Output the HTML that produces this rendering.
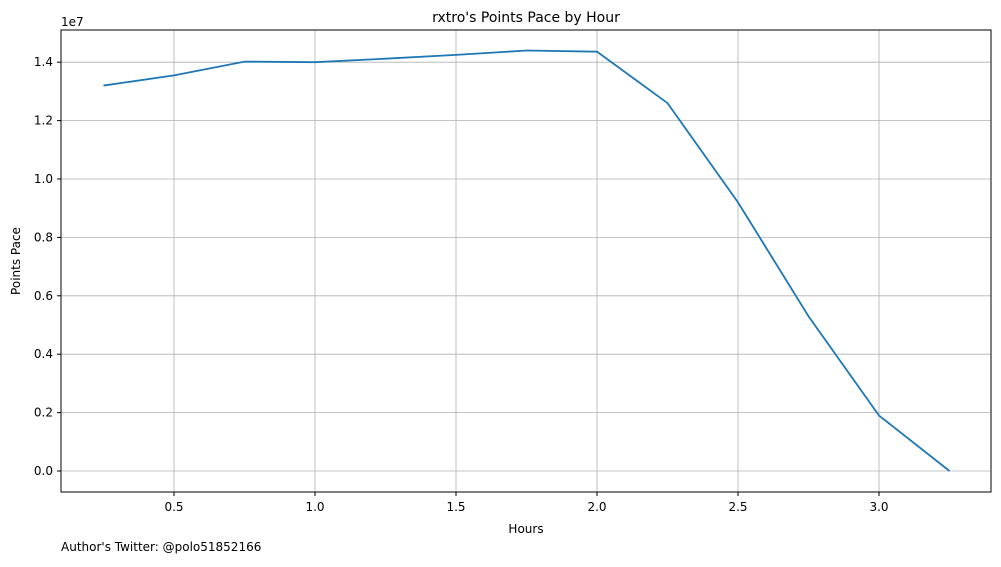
<!DOCTYPE html>
<html><head><meta charset="utf-8"><style>
body{margin:0;background:#fff}
svg text{font-family:"DejaVu Sans","Liberation Sans",sans-serif;fill:#000}
</style></head><body>
<svg id="c" width="1001" height="562" xmlns="http://www.w3.org/2000/svg">
<text x="526" y="22" text-anchor="middle" font-size="14">rxtro's Points Pace by Hour</text>
<text x="526" y="533" text-anchor="middle" font-size="12">Hours</text>
<text transform="translate(20,261) rotate(-90)" text-anchor="middle" font-size="12">Points Pace</text>
<text x="61" y="26" font-size="12">1e7</text>
<text x="61" y="551" font-size="12">Author's Twitter: @polo51852166</text>
<g id="grid"></g><g id="ticks"></g>
<path id="line" fill="none" stroke="#1f77b4" stroke-width="1.8"/>
<rect x="61" y="30" width="930" height="462" fill="none" stroke="#000" stroke-width="1"/>
</svg>
<script>
const hours=[0.25,0.5,0.75,1.0,1.25,1.5,1.75,2.0,2.25,2.5,2.75,3.0,3.25];
const pace=[13.2,13.55,14.02,14.0,14.12,14.25,14.4,14.36,12.6,9.2,5.3,1.9,0.0];
const xTicks=[0.5,1.0,1.5,2.0,2.5,3.0];
const yTicks=[0,0.2,0.4,0.6,0.8,1.0,1.2,1.4];
const X=v=>174+(v-0.5)*282;
const Y=v=>471-v*292;
const NS="http://www.w3.org/2000/svg";
const g=document.getElementById('grid'),t=document.getElementById('ticks');
function mk(p,tag,a){const e=document.createElementNS(NS,tag);for(const k in a)e.setAttribute(k,a[k]);p.appendChild(e);return e;}
xTicks.forEach(v=>{const x=X(v);
 const l=mk(g,'line',{x1:x,x2:x,y1:30,y2:492,stroke:'#b0b0b0','stroke-width':0.8});
 
 
 mk(t,'line',{x1:x,x2:x,y1:492,y2:496,stroke:'#000'});
 const tx=mk(t,'text',{x:x,y:511,'text-anchor':'middle','font-size':12});tx.textContent=v.toFixed(1);
 
 });
yTicks.forEach(v=>{const y=Y(v);
 const l=mk(g,'line',{x1:61,x2:991,y1:y,y2:y,stroke:'#b0b0b0','stroke-width':0.8});
 
 
 mk(t,'line',{x1:57,x2:61,y1:y,y2:y,stroke:'#000'});
 const tx=mk(t,'text',{x:53,y:y+4,'text-anchor':'end','font-size':12});tx.textContent=v.toFixed(1);
 
 });
document.getElementById('line').setAttribute('d',hours.map((h,i)=>(i?'L':'M')+X(h)+','+Y(pace[i]/10)).join(''));
</script>
</body></html>
